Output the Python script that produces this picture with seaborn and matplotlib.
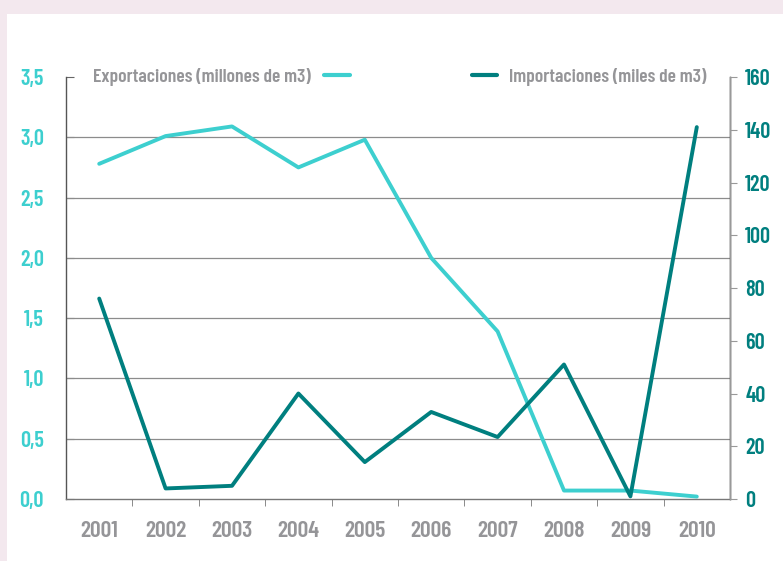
import matplotlib
matplotlib.use('Agg')
import matplotlib.pyplot as plt
import matplotlib.patches as mpatches
from matplotlib.lines import Line2D
from matplotlib.ticker import FuncFormatter, FixedLocator
import pandas as pd
import seaborn as sns
import logging

logging.getLogger('matplotlib.font_manager').setLevel(logging.ERROR)

years = ['2001', '2002', '2003', '2004', '2005', '2006', '2007', '2008', '2009', '2010']
exportaciones = [2.78, 3.01, 3.09, 2.75, 2.98, 2.00, 1.39, 0.07, 0.07, 0.02]
importaciones = [76, 4, 5, 40, 14, 33, 23.5, 51, 1, 141]
left_ticks = [0.0, 0.5, 1.0, 1.5, 2.0, 2.5, 3.0, 3.5]
right_ticks = [0, 20, 40, 60, 80, 100, 120, 140, 160]

c_exp = '#3dcfcf'
c_imp = '#007f7f'
c_txt = '#959598'

df = pd.DataFrame({'x': range(len(years)), 'exp': exportaciones, 'imp': importaciones})

sns.set_style('white')
plt.rcParams['font.family'] = ['Barlow Condensed', 'Roboto Condensed', 'Oswald', 'DejaVu Sans']

fig = plt.figure(figsize=(7.83, 5.61), dpi=100, facecolor='#f3e8ee')
fig.patches.append(mpatches.Rectangle((7 / 783, 0), 1, 1 - 14 / 561, transform=fig.transFigure,
                                      facecolor='white', edgecolor='none', zorder=-10))
ax = fig.add_axes([66 / 783, 1 - 499 / 561, 664 / 783, 422 / 561])
ax.set_facecolor('none')
ax2 = ax.twinx()

sns.lineplot(data=df, x='x', y='exp', ax=ax, color=c_exp, lw=2.8, zorder=3)
sns.lineplot(data=df, x='x', y='imp', ax=ax2, color=c_imp, lw=2.8, zorder=3)

ax.set_xlim(-0.5, len(years) - 0.5)
ax.set_ylim(0, 3.5)
ax2.set_ylim(0, 160)
ax.set_xlabel('')
ax.set_ylabel('')
ax2.set_ylabel('')

for y in left_ticks[1:-1]:
    ax.axhline(y, color='#8c8c8c', lw=0.9, zorder=1)

ax.set_yticks(left_ticks)
ax.yaxis.set_major_formatter(FuncFormatter(lambda v, p: f'{v:.1f}'.replace('.', ',')))
ax.tick_params(axis='y', direction='in', length=6, color='#666666', labelcolor=c_exp,
               labelsize=16, pad=16, left=True)
ax2.set_yticks(right_ticks)
ax2.tick_params(axis='y', direction='out', length=5, color='#999999', labelcolor=c_imp,
                labelsize=16, pad=6, right=True)
for t in ax.get_yticklabels() + ax2.get_yticklabels():
    t.set_fontweight('semibold')

ax.set_xticks(range(len(years)))
ax.set_xticklabels(years, color=c_txt, fontsize=17, fontweight='semibold')
ax.xaxis.set_minor_locator(FixedLocator([i + 0.5 for i in range(len(years) - 1)]))
ax.tick_params(axis='x', which='major', length=0, pad=16)
ax.tick_params(axis='x', which='minor', direction='out', length=5, color='#777777', bottom=True)

for a in (ax, ax2):
    a.spines['top'].set_visible(False)
ax.spines['left'].set_color('#555555')
ax.spines['bottom'].set_color('#777777')
ax2.spines['right'].set_color('#999999')
ax2.spines['left'].set_visible(False)
ax2.spines['bottom'].set_visible(False)
for s in ('left', 'bottom', 'right'):
    ax.spines[s].set_linewidth(1)
    ax2.spines[s].set_linewidth(1)

h_exp = Line2D([], [], color=c_exp, lw=3)
h_imp = Line2D([], [], color=c_imp, lw=3)
leg1 = ax2.legend([h_exp], ['Exportaciones (millones de m3)'], loc='center left',
                  bbox_to_anchor=(0.02, 1.0), frameon=True, framealpha=1, edgecolor='white',
                  facecolor='white', markerfirst=False, handlelength=1.3, handletextpad=0.7,
                  borderpad=0.2, prop={'size': 14, 'weight': 'semibold'})
for t in leg1.get_texts():
    t.set_color(c_txt)
ax2.add_artist(leg1)
leg2 = ax2.legend([h_imp], ['Importaciones (miles de m3)'], loc='center right',
                  bbox_to_anchor=(0.985, 1.0), frameon=True, framealpha=1, edgecolor='white',
                  facecolor='white', handlelength=1.3, handletextpad=0.6,
                  borderpad=0.2, prop={'size': 14, 'weight': 'semibold'})
for t in leg2.get_texts():
    t.set_color(c_txt)

fig.savefig('out.png', dpi=100, facecolor=fig.get_facecolor())
